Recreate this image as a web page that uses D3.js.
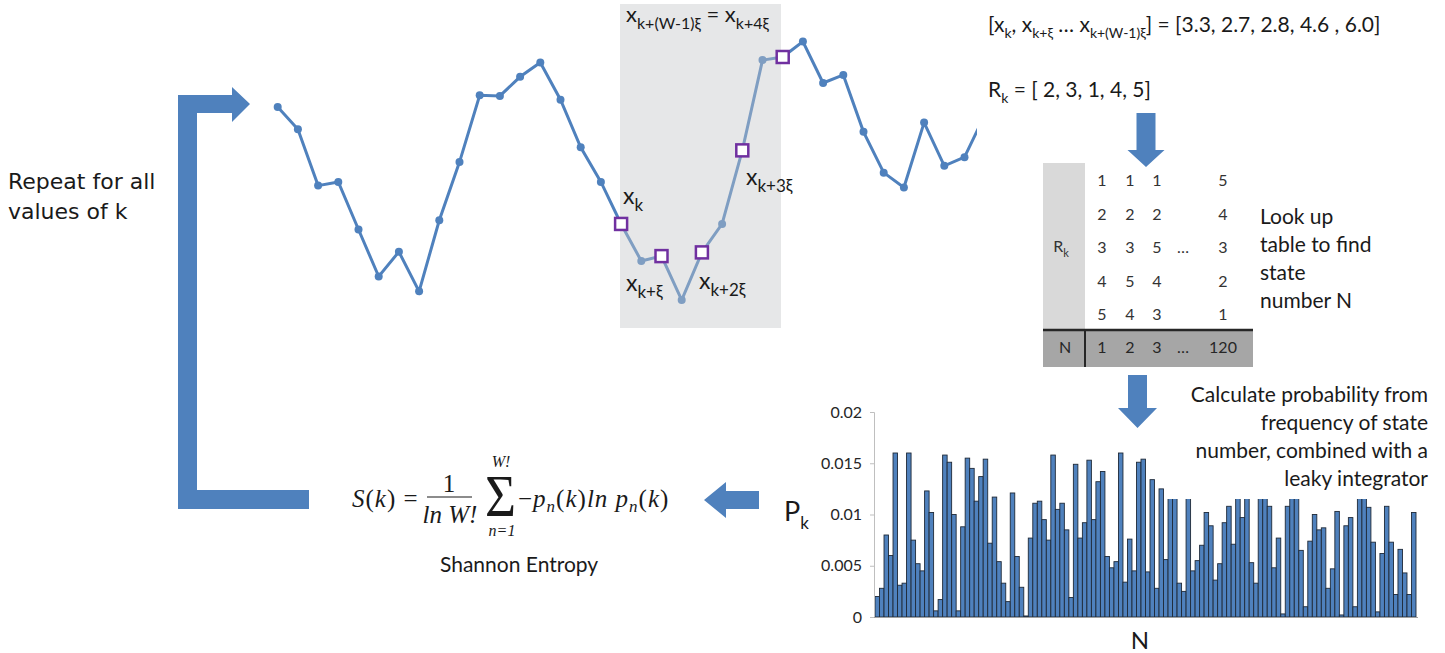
<!DOCTYPE html>
<html>
<head>
<meta charset="utf-8">
<script src="https://cdn.jsdelivr.net/npm/d3@7/dist/d3.min.js"></script>
<style>
  body { margin: 0; background: #fff; }
  text { fill: #1a1a1a; }
</style>
</head>
<body>
<svg id="main" width="1445" height="653"></svg>
<script>
const width = 1445;
const height = 653;

// time series (window values 3.3 .. 6.0)
const seriesValues = [5.19, 4.83, 3.92, 3.98, 3.21, 2.45, 2.85, 2.21, 3.36, 4.30,
    5.38, 5.37, 5.68, 5.91, 5.31, 4.54, 3.98, 3.30, 2.70, 2.78,
    2.07, 2.84, 3.30, 4.49, 5.95, 6.00, 6.25, 5.58, 5.71, 4.79,
    4.13, 3.89, 4.94, 4.24, 4.38, 5.06];
const windowIndex = [17, 19, 21, 23, 25];

// probability per state number N (1..120)
const probabilities = [
    0.0020, 0.0028, 0.0080, 0.0060, 0.0160, 0.0031, 0.0033, 0.0160, 0.0075, 0.0052,
    0.0045, 0.0123, 0.0102, 0.0006, 0.0017, 0.0158, 0.0151, 0.0100, 0.0006, 0.0088,
    0.0155, 0.0145, 0.0113, 0.0137, 0.0154, 0.0072, 0.0117, 0.0054, 0.0033, 0.0015,
    0.0121, 0.0059, 0.0029, 0.0001, 0.0077, 0.0111, 0.0113, 0.0095, 0.0075, 0.0158,
    0.0105, 0.0111, 0.0085, 0.0019, 0.0149, 0.0077, 0.0092, 0.0153, 0.0095, 0.0132,
    0.0142, 0.0059, 0.0048, 0.0054, 0.0160, 0.0034, 0.0076, 0.0045, 0.0151, 0.0154,
    0.0044, 0.0134, 0.0028, 0.0125, 0.0056, 0.0130, 0.0128, 0.0033, 0.0025, 0.0126,
    0.0045, 0.0055, 0.0070, 0.0102, 0.0089, 0.0036, 0.0052, 0.0092, 0.0108, 0.0071,
    0.0124, 0.0097, 0.0122, 0.0053, 0.0033, 0.0127, 0.0131, 0.0108, 0.0048, 0.0077,
    0.0003, 0.0108, 0.0129, 0.0133, 0.0065, 0.0010, 0.0074, 0.0100, 0.0085, 0.0087,
    0.0028, 0.0047, 0.0103, 0.0002, 0.0089, 0.0097, 0.0010, 0.0125, 0.0121, 0.0107,
    0.0073, 0.0005, 0.0062, 0.0108, 0.0073, 0.0022, 0.0066, 0.0043, 0.0022, 0.0102
];
const probTicks = [0, 0.005, 0.01, 0.015, 0.02];

// lookup table
const tableColumns = [[1, 2, 3, 4, 5], [1, 2, 3, 5, 4], [1, 2, 5, 4, 3], ['', '', '…', '', ''], [5, 4, 3, 2, 1]];
const stateNumbers = ['1', '2', '3', '…', '120'];

const blue = '#4f81bd';
const purple = '#7030a0';
const sans = 'Lato, "Open Sans", sans-serif';

const svg = d3.select('#main');

// text with subscripts: parts = [[text, isSub], ...]
function richText(g, x, y, parts, size, subSize, anchor, family) {
    const t = g.append('text')
        .attr('x', x).attr('y', y)
        .attr('font-size', size)
        .attr('font-family', family || sans)
        .attr('text-anchor', anchor || 'start');
    let shift = 0;
    const drop = size * 0.3;
    parts.forEach(p => {
        const s = p[1] ? drop : 0;
        t.append('tspan')
            .attr('dy', s - shift)
            .attr('font-size', p[1] ? subSize : size)
            .text(p[0]);
        shift = s;
    });
    return t;
}

// ---------- time series ----------
const lineX = d3.scaleLinear().domain([0, seriesValues.length - 1]).range([277.7, 277.7 + 35 * 20.2]);
const lineY = d3.scaleLinear().domain([0, 6]).range([428, 57]);

const lineGroup = svg.append('g');
lineGroup.append('path')
    .attr('d', d3.line().x((d, i) => lineX(i)).y(d => lineY(d))(seriesValues))
    .attr('fill', 'none')
    .attr('stroke', blue)
    .attr('stroke-width', 3);
lineGroup.selectAll('.pt')
    .data(seriesValues)
    .join('circle')
    .attr('class', 'pt')
    .attr('cx', (d, i) => lineX(i))
    .attr('cy', d => lineY(d))
    .attr('r', 4)
    .attr('fill', blue);

// shaded window
svg.append('rect')
    .attr('x', 620).attr('y', 4)
    .attr('width', 161).attr('height', 324)
    .attr('fill', 'rgb(195,197,200)')
    .attr('opacity', 0.42);

svg.selectAll('.win')
    .data(windowIndex)
    .join('rect')
    .attr('class', 'win')
    .attr('x', i => lineX(i) - 6)
    .attr('y', i => lineY(seriesValues[i]) - 6)
    .attr('width', 12).attr('height', 12)
    .attr('fill', '#fff')
    .attr('stroke', purple)
    .attr('stroke-width', 2.5);

richText(svg, 623, 204, [['x', 0], ['k', 1]], 23, 17);
richText(svg, 626, 291, [['x', 0], ['k+ξ', 1]], 23, 17);
richText(svg, 699, 289, [['x', 0], ['k+2ξ', 1]], 23, 17);
richText(svg, 746, 185, [['x', 0], ['k+3ξ', 1]], 23, 17);
richText(svg, 626, 22, [['x', 0], ['k+(W-1)ξ', 1], [' = x', 0], ['k+4ξ', 1]], 22, 16);

// white text box on the right hides the end of the line
svg.append('rect').attr('x', 977).attr('y', 0).attr('width', 468).attr('height', 160).attr('fill', '#fff');

richText(svg, 988, 32, [['[x', 0], ['k', 1], [', x', 0], ['k+ξ', 1], [' … x', 0], ['k+(W-1)ξ', 1], [']', 0], [' = [3.3, 2.7, 2.8, 4.6 , 6.0]', 0]], 21, 14);
richText(svg, 988, 97, [['R', 0], ['k', 1], [' = [ 2, 3, 1, 4, 5]', 0]], 21, 14);

// ---------- arrows ----------
function arrowDown(cx, top, shaftW, headTop, headW, tip) {
    const p = d3.path();
    p.moveTo(cx - shaftW / 2, top);
    p.lineTo(cx + shaftW / 2, top);
    p.lineTo(cx + shaftW / 2, headTop);
    p.lineTo(cx + headW / 2, headTop);
    p.lineTo(cx, tip);
    p.lineTo(cx - headW / 2, headTop);
    p.lineTo(cx - shaftW / 2, headTop);
    p.closePath();
    svg.append('path').attr('d', p.toString()).attr('fill', blue);
}
arrowDown(1146, 113, 19, 150, 37, 167);
arrowDown(1137.5, 375, 19, 408, 39, 428);

// left arrow to entropy formula
(function () {
    const p = d3.path();
    p.moveTo(759, 491); p.lineTo(726, 491); p.lineTo(726, 482);
    p.lineTo(704, 500); p.lineTo(726, 518); p.lineTo(726, 509); p.lineTo(759, 509);
    p.closePath();
    svg.append('path').attr('d', p.toString()).attr('fill', blue);
})();

// repeat bracket arrow
(function () {
    const p = d3.path();
    p.moveTo(309, 509); p.lineTo(178, 509); p.lineTo(178, 95); p.lineTo(232, 95);
    p.lineTo(232, 87); p.lineTo(250, 104); p.lineTo(232, 122); p.lineTo(232, 113);
    p.lineTo(197, 113); p.lineTo(197, 490); p.lineTo(309, 490);
    p.closePath();
    svg.append('path').attr('d', p.toString()).attr('fill', blue);
})();

svg.append('text').attr('x', 8).attr('y', 189)
    .attr('font-family', '"DejaVu Sans", Verdana, sans-serif').attr('font-size', 22)
    .text('Repeat for all');
svg.append('text').attr('x', 8).attr('y', 219)
    .attr('font-family', '"DejaVu Sans", Verdana, sans-serif').attr('font-size', 22)
    .text('values of k');

// ---------- lookup table ----------
const colX = [1102, 1130, 1157, 1183, 1223];
const rowY = d3.scalePoint().domain(d3.range(5)).range([180, 314]);
const table = svg.append('g').attr('font-family', sans).attr('font-size', 16);
table.append('rect').attr('x', 1043).attr('y', 163).attr('width', 42).attr('height', 167).attr('fill', '#d9d9d9');
table.append('rect').attr('x', 1043).attr('y', 330).attr('width', 210).attr('height', 37).attr('fill', '#a6a6a6');
table.append('line').attr('x1', 1043).attr('x2', 1253).attr('y1', 330).attr('y2', 330).attr('stroke', '#262626').attr('stroke-width', 2.5);
table.append('line').attr('x1', 1085).attr('x2', 1085).attr('y1', 330).attr('y2', 367).attr('stroke', '#262626').attr('stroke-width', 2);
tableColumns.forEach((col, c) => {
    table.selectAll(null)
        .data(col)
        .join('text')
        .attr('x', colX[c])
        .attr('y', (d, r) => rowY(r) + 6)
        .attr('text-anchor', 'middle')
        .style('fill', '#333')
        .text(d => d);
});
table.selectAll(null)
    .data(stateNumbers)
    .join('text')
    .attr('x', (d, i) => colX[i])
    .attr('y', 353)
    .attr('text-anchor', 'middle')
    .style('fill', '#262626')
    .text(d => d);
richText(table, 1061, 252, [['R', 0], ['k', 1]], 16, 11, 'middle').style('fill', '#333');
table.append('text').attr('x', 1065).attr('y', 353).attr('text-anchor', 'middle').style('fill', '#262626').text('N');

const lookLines = ['Look up', 'table to find', 'state', 'number N'];
svg.selectAll('.look')
    .data(lookLines)
    .join('text')
    .attr('class', 'look')
    .attr('x', 1260)
    .attr('y', (d, i) => 224 + i * 28)
    .attr('font-family', sans).attr('font-size', 21)
    .text(d => d);

// ---------- probability bars ----------
const barX = d3.scaleBand().domain(d3.range(1, probabilities.length + 1)).range([875, 1416]).padding(0);
const barY = d3.scaleLinear().domain([0, 0.02]).range([617, 412]);

svg.append('g')
    .selectAll('rect')
    .data(probabilities)
    .join('rect')
    .attr('x', (d, i) => barX(i + 1))
    .attr('y', d => barY(d))
    .attr('width', barX.bandwidth())
    .attr('height', d => barY(0) - barY(d))
    .attr('fill', blue)
    .attr('stroke', '#1f2a38')
    .attr('stroke-width', 0.9);

const yAxis = svg.append('g')
    .attr('transform', 'translate(874,0)')
    .call(d3.axisLeft(barY).tickValues(probTicks).tickSize(4).tickFormat(d => String(d)));
yAxis.select('.domain').attr('stroke', '#bfbfbf');
yAxis.selectAll('.tick line').attr('stroke', '#bfbfbf');
yAxis.selectAll('.tick text').attr('font-family', sans).attr('font-size', 16).attr('x', -12).style('fill', '#262626');

svg.append('line').attr('x1', 874).attr('x2', 1418).attr('y1', 617.5).attr('y2', 617.5).attr('stroke', '#a0a0a0');

svg.append('text').attr('x', 1140).attr('y', 649).attr('text-anchor', 'middle')
    .attr('font-family', sans).attr('font-size', 24).text('N');

// text box over the right bars
svg.append('rect').attr('x', 1166).attr('y', 378).attr('width', 279).attr('height', 121).attr('fill', '#fff');
const calcLines = ['Calculate probability from', 'frequency of state', 'number, combined with a', 'leaky integrator'];
svg.selectAll('.calc')
    .data(calcLines)
    .join('text')
    .attr('class', 'calc')
    .attr('x', 1428)
    .attr('y', (d, i) => 402 + i * 28)
    .attr('text-anchor', 'end')
    .attr('font-family', sans).attr('font-size', 21)
    .text(d => d);

richText(svg, 784, 521, [['P', 0], ['k', 1]], 27, 17);

// ---------- entropy formula ----------
const serif = '"Liberation Serif", "DejaVu Serif", serif';
const f = svg.append('g').attr('font-family', serif).attr('font-size', 25);
const s1 = f.append('text').attr('x', 352).attr('y', 507).attr('letter-spacing', 1);
s1.append('tspan').attr('font-style', 'italic').text('S');
s1.append('tspan').text('(');
s1.append('tspan').attr('font-style', 'italic').text('k');
s1.append('tspan').text(') =');
f.append('text').attr('x', 449).attr('y', 492).attr('text-anchor', 'middle').text('1');
f.append('line').attr('x1', 427).attr('x2', 472).attr('y1', 497).attr('y2', 497).attr('stroke', '#1a1a1a').attr('stroke-width', 1.2);
f.append('text').attr('x', 450).attr('y', 523).attr('text-anchor', 'middle').attr('font-style', 'italic').text('ln W!');
f.append('text').attr('x', 485).attr('y', 516).attr('font-size', 60)
    .attr('textLength', 31).attr('lengthAdjust', 'spacingAndGlyphs').text('Σ');
f.append('text').attr('x', 501).attr('y', 467).attr('text-anchor', 'middle').attr('font-size', 16).attr('font-style', 'italic').text('W!');
f.append('text').attr('x', 502).attr('y', 536).attr('text-anchor', 'middle').attr('font-size', 16).attr('font-style', 'italic').text('n=1');
const s2 = f.append('text').attr('x', 518).attr('y', 507).attr('letter-spacing', 1);
s2.append('tspan').text('−');
s2.append('tspan').attr('font-style', 'italic').text('p');
s2.append('tspan').attr('font-style', 'italic').attr('font-size', 17).attr('dy', 5).text('n');
s2.append('tspan').attr('dy', -5).text('(');
s2.append('tspan').attr('font-style', 'italic').text('k');
s2.append('tspan').text(')');
s2.append('tspan').attr('font-style', 'italic').text('ln ');
s2.append('tspan').attr('font-style', 'italic').text('p');
s2.append('tspan').attr('font-style', 'italic').attr('font-size', 17).attr('dy', 5).text('n');
s2.append('tspan').attr('dy', -5).text('(');
s2.append('tspan').attr('font-style', 'italic').text('k');
s2.append('tspan').text(')');

svg.append('text').attr('x', 440).attr('y', 572).attr('font-family', sans).attr('font-size', 21).text('Shannon Entropy');
</script>
</body>
</html>
